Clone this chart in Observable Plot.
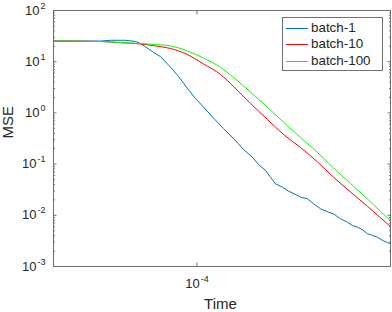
<!DOCTYPE html>
<html><head><meta charset="utf-8">
<script src="https://cdn.jsdelivr.net/npm/d3@7"></script>
<script src="https://cdn.jsdelivr.net/npm/@observablehq/plot@0.6"></script>
<style>
body{margin:0;background:#fff;}
#chart{position:relative;width:392px;height:312px;font-family:"Liberation Sans",Arial,Helvetica,sans-serif;color:#262626;}
#chart svg{display:block;}
.legend{position:absolute;left:282px;top:17px;width:101px;height:54px;border:1px solid #707070;background:#fff;box-sizing:border-box;}
.row{position:absolute;left:0;width:99px;height:16px;line-height:16px;font-size:13.4px;white-space:nowrap;}
.swatch{position:absolute;left:3px;top:8px;width:22px;height:1px;}
.lab{position:absolute;left:28px;top:0;}
</style></head><body><div id="chart"></div>
<script>
const seriesNames = ["batch-1", "batch-10", "batch-100"];
const seriesColors = ["#0072BD", "#FF0000", "#00FF00"];

const timeBlue = [3.98e-5, 5.38e-5, 5.74e-5, 6.32e-5, 6.74e-5, 6.96e-5, 7.56e-5, 7.91e-5, 8.44e-5, 8.89e-5, 9.35e-5, 9.91e-5, 1.043e-4, 1.112e-4, 1.186e-4, 1.265e-4, 1.349e-4, 1.439e-4, 1.485e-4, 1.554e-4, 1.604e-4, 1.656e-4, 1.733e-4, 1.801e-4, 1.908e-4, 1.945e-4, 2.034e-4, 2.114e-4, 2.212e-4, 2.329e-4, 2.404e-4, 2.515e-4, 2.630e-4, 2.716e-4, 2.805e-4, 2.897e-4, 2.992e-4, 3.089e-4, 3.190e-4, 3.294e-4, 3.402e-4, 3.467e-4];
const mseBatch1 = [25.3, 25.3, 26.2, 26.2, 24.8, 22.7, 15.3, 12.6, 7.81, 5.14, 3.18, 1.91, 1.30, 0.794, 0.496, 0.316, 0.193, 0.129, 0.0982, 0.075, 0.0555, 0.0412, 0.0354, 0.0296, 0.0244, 0.0226, 0.0210, 0.0168, 0.0134, 0.0115, 0.0107, 0.00855, 0.00733, 0.0063, 0.00586, 0.00521, 0.00436, 0.00403, 0.00373, 0.00322, 0.00294, 0.00275];

const timeShared = [3.98e-5, 5.38e-5, 6.12e-5, 6.96e-5, 7.66e-5, 8.44e-5, 9.35e-5, 1.043e-4, 1.164e-4, 1.265e-4, 1.411e-4, 1.573e-4, 1.744e-4, 1.945e-4, 2.170e-4, 2.404e-4, 2.682e-4, 2.992e-4, 3.252e-4, 3.467e-4];
const mseBatch10 = [25.3, 24.8, 23.5, 22.2, 20.3, 18.1, 14.1, 9.02, 5.62, 3.28, 1.53, 0.743, 0.379, 0.211, 0.110, 0.0555, 0.0286, 0.01486, 0.00893, 0.00604];
const mseBatch100 = [25.3, 24.8, 23.7, 22.7, 21.7, 20.3, 16.5, 11.8, 7.71, 4.91, 2.54, 1.29, 0.658, 0.331, 0.169, 0.0839, 0.0418, 0.0208, 0.01186, 0.00791];

const xDomain = [3.98e-5, 3.467e-4];
const yDomain = [1e-3, 1e2];
const xTicks = [1e-4];
const yTicks = [1e-3, 1e-2, 1e-1, 1e0, 1e1, 1e2];
const yMinorTicks = [];
for (let d = -3; d < 2; d++) for (let k = 2; k <= 9; k++) yMinorTicks.push(k * Math.pow(10, d));
const xLabel = "Time";
const yLabel = "MSE";

const toRows = (ts, vs) => ts.map((t, i) => ({t, mse: vs[i]}));
const seriesData = [toRows(timeBlue, mseBatch1), toRows(timeShared, mseBatch10), toRows(timeShared, mseBatch100)];

const pow10 = d => `10^${Math.round(Math.log10(d))}`;
const tickCol = "#707070";
const blank = () => "";

const plot = Plot.plot({
  width: 392, height: 312,
  marginLeft: 53, marginRight: 2, marginTop: 10, marginBottom: 46,
  style: {fontFamily: '"Liberation Sans", Arial, Helvetica, sans-serif', fontSize: "13px", color: "#262626", background: "white"},
  x: {type: "log", domain: xDomain},
  y: {type: "log", domain: yDomain},
  marks: [
    ...seriesData.map((rows, i) => Plot.line(rows, {x: "t", y: "mse", stroke: seriesColors[i], strokeWidth: 1, curve: i === 0 ? "linear" : "monotone-x"})),
    Plot.frame({stroke: tickCol}),
    Plot.axisY({anchor: "left", ticks: yTicks, tickSize: 3.5, dx: 3.5, tickFormat: blank, label: null, stroke: tickCol}),
    Plot.axisY({anchor: "right", ticks: yTicks, tickSize: 3.5, dx: -3.5, tickFormat: blank, label: null, stroke: tickCol}),
    Plot.axisY({anchor: "left", ticks: yMinorTicks, tickSize: 2, dx: 2, tickFormat: blank, label: null, stroke: tickCol}),
    Plot.axisY({anchor: "right", ticks: yMinorTicks, tickSize: 2, dx: -2, tickFormat: blank, label: null, stroke: tickCol}),
    Plot.axisX({anchor: "bottom", ticks: xTicks, tickSize: 3.5, dy: -3.5, tickFormat: blank, label: null, stroke: tickCol}),
    Plot.axisX({anchor: "top", ticks: xTicks, tickSize: 3.5, dy: 3.5, tickFormat: blank, label: null, stroke: tickCol}),
    Plot.axisY({anchor: "left", ticks: yTicks, tickSize: 0, tickPadding: 8, tickFormat: pow10, label: null, fill: "#262626", fontSize: 13}),
    Plot.axisX({anchor: "bottom", ticks: xTicks, tickSize: 0, tickPadding: 12.5, tickFormat: pow10, label: null, fill: "#262626", fontSize: 13}),
    Plot.text([yLabel], {text: d => d, frameAnchor: "left", rotate: -90, dx: -45.5, fontSize: 15, fill: "#262626"}),
    Plot.text([xLabel], {text: d => d, frameAnchor: "bottom", dx: -1.5, dy: 42, fontSize: 15, fill: "#262626"})
  ]
});

d3.select(plot).selectAll('g[aria-label$="tick label"] text').each(function () {
  const s = this.textContent;
  if (!s.includes("^")) return;
  const [b, e] = s.split("^");
  const t = d3.select(this);
  t.text(null);
  t.append("tspan").text(b);
  t.append("tspan").attr("font-size", 9).attr("dx", 1).attr("dy", -6).text(e);
});

const chart = document.getElementById("chart");
chart.appendChild(plot);

const legend = d3.select(chart).append("div").attr("class", "legend");
const rowTops = [2, 18, 35];
seriesNames.forEach((name, i) => {
  const row = legend.append("div").attr("class", "row").style("top", rowTops[i] + "px");
  row.append("span").attr("class", "swatch").style("background", seriesColors[i]);
  row.append("span").attr("class", "lab").text(name);
});
</script>
</body></html>
